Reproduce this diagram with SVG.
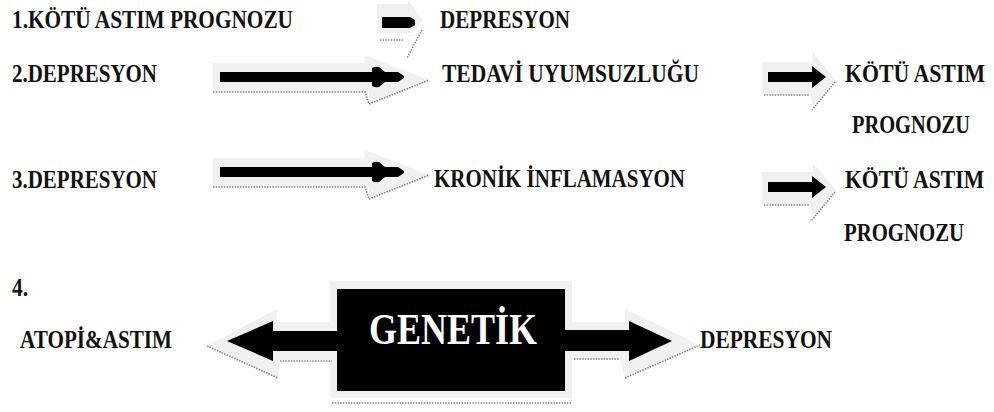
<svg xmlns="http://www.w3.org/2000/svg" width="994" height="412" viewBox="0 0 994 412">
<style>
.t{font-family:"Liberation Serif","Times New Roman",serif;font-size:26px;font-weight:bold;fill:#111}
.g{font-family:"Liberation Serif","Times New Roman",serif;font-size:44px;font-weight:bold;fill:#fff}
.sh{fill:#f0f0f0}
.zz{fill:none;stroke:#8a8a8a;stroke-width:1.6;stroke-dasharray:1.5 1.2}
.blk{fill:#000}
</style>
<defs>
<g id="longArrow">
<path class="sh" d="M213,63 H365 V55 L432,81 L369,104 L369,92 H213 Z"/>
<polyline class="zz" points="213,92 365,92 369,104 429,80"/>
<path class="blk" d="M220,72 H372 V68 Q375,66 379,67 L385,72 H398 L404,76 V78 L398,82 H385 L379,87 Q375,88 372,86 V82 H220 Z"/>
</g>
<g id="shortArrow">
<path class="sh" d="M762,62 H813 V53 L836,80 L814,108 L810,95 H762 Z"/>
<polyline class="zz" points="764,95 809,95"/>
<line class="zz" x1="835" y1="82" x2="812" y2="110"/>
<path class="blk" d="M768,72 H812 V66 L826,77 L812,88 V82 H768 Z"/>
</g>
</defs>
<rect width="994" height="412" fill="#fff"/>
<g id="connectors">
<g id="arrow1">
<path class="sh" d="M377,4 H408 V1 L423,20 L412,33 H377 Z"/>
<line class="zz" x1="380" y1="40" x2="404" y2="40"/>
<line class="zz" x1="422" y1="30" x2="407" y2="58"/>
<path class="blk" d="M382,17 H410 L415,20 V25 L410,28 H382 Z"/>
</g>
<use id="arrow2a" href="#longArrow"/>
<use id="arrow2b" href="#shortArrow"/>
<use id="arrow3a" href="#longArrow" transform="translate(0,95)"/>
<use id="arrow3b" href="#shortArrow" transform="translate(0,110)"/>
<g id="arrow4">
<path class="sh" d="M207,346 L277,309 V322 H330 V281 H572 V322 H625 V309 L700,345 L625,378 L620,360 H572 V398 H330 V360 H280 L278,378 Z"/>
<line class="zz" x1="207" y1="346" x2="278" y2="378"/>
<line class="zz" x1="280" y1="361" x2="332" y2="361"/>
<line class="zz" x1="332" y1="403" x2="572" y2="403"/>
<line class="zz" x1="574" y1="359" x2="620" y2="359"/>
<line class="zz" x1="625" y1="378" x2="700" y2="345"/>
</g>
</g>
<g id="n-genetik">
<path class="blk" d="M227,341 L273,321 V331 H337 V289 H565 V330 H629 V321 L672,341 L629,361 V351 H565 V391 H337 V351 H273 V361 Z"/>
<text class="g" x="369" y="344" textLength="168" lengthAdjust="spacingAndGlyphs">GENETİK</text>
</g>
<g id="n1a"><text class="t" x="12" y="28" textLength="281" lengthAdjust="spacingAndGlyphs">1.KÖTÜ ASTIM PROGNOZU</text></g>
<g id="n1b"><text class="t" x="440" y="28" textLength="130" lengthAdjust="spacingAndGlyphs">DEPRESYON</text></g>
<g id="n2a"><text class="t" x="12" y="82" textLength="145" lengthAdjust="spacingAndGlyphs">2.DEPRESYON</text></g>
<g id="n2b"><text class="t" x="442" y="82" textLength="257" lengthAdjust="spacingAndGlyphs">TEDAVİ UYUMSUZLUĞU</text></g>
<g id="n2c">
<text class="t" transform="translate(845,82) scale(0.8,1)" x="0" y="0" textLength="175" lengthAdjust="spacingAndGlyphs">KÖTÜ ASTIM</text>
<text class="t" transform="translate(852,133) scale(0.8,1)" x="0" y="0" textLength="147.5" lengthAdjust="spacingAndGlyphs">PROGNOZU</text>
</g>
<g id="n3a"><text class="t" x="12" y="188" textLength="145" lengthAdjust="spacingAndGlyphs">3.DEPRESYON</text></g>
<g id="n3b"><text class="t" x="434" y="187" textLength="251" lengthAdjust="spacingAndGlyphs">KRONİK İNFLAMASYON</text></g>
<g id="n3c">
<text class="t" transform="translate(845,188) scale(0.8,1)" x="0" y="0" textLength="174" lengthAdjust="spacingAndGlyphs">KÖTÜ ASTIM</text>
<text class="t" transform="translate(844,241) scale(0.8,1)" x="0" y="0" textLength="150" lengthAdjust="spacingAndGlyphs">PROGNOZU</text>
</g>
<g id="n4"><text class="t" x="12" y="296" textLength="16" lengthAdjust="spacingAndGlyphs">4.</text></g>
<g id="n4a"><text class="t" x="20" y="348" textLength="152" lengthAdjust="spacingAndGlyphs">ATOPİ&amp;ASTIM</text></g>
<g id="n4b"><text class="t" x="700" y="348" textLength="132" lengthAdjust="spacingAndGlyphs">DEPRESYON</text></g>
</svg>
